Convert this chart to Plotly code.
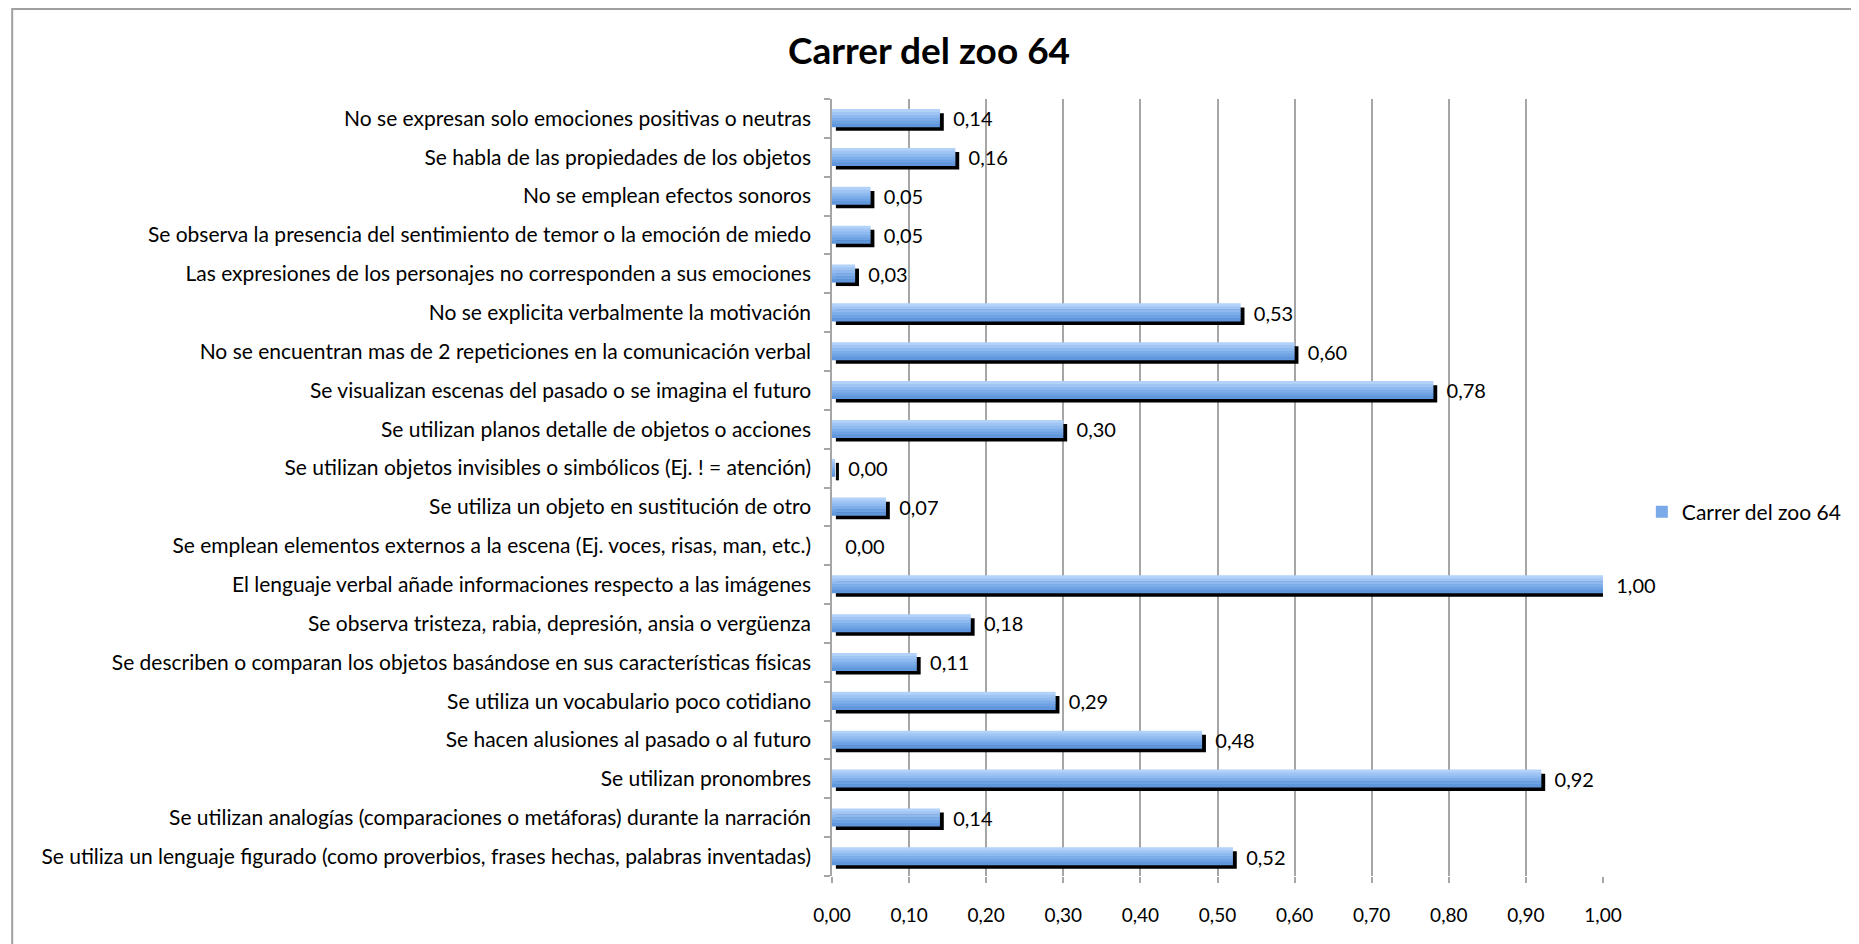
import plotly.graph_objects as go

# categories, top to bottom as in the reference
categorias = [
    "No se expresan solo emociones positivas o neutras",
    "Se habla de las propiedades de los objetos",
    "No se emplean efectos sonoros",
    "Se observa la presencia del sentimiento de temor o la emoción de miedo",
    "Las expresiones de los personajes no corresponden a sus emociones",
    "No se explicita verbalmente la motivación",
    "No se encuentran mas de 2 repeticiones en la comunicación verbal",
    "Se visualizan escenas del pasado o se imagina el futuro",
    "Se utilizan planos detalle de objetos o acciones",
    "Se utilizan objetos invisibles o simbólicos (Ej. ! = atención)",
    "Se utiliza un objeto en sustitución de otro",
    "Se emplean elementos externos a la escena (Ej. voces, risas, man, etc.)",
    "El lenguaje verbal añade informaciones respecto a las imágenes",
    "Se observa tristeza, rabia, depresión, ansia o vergüenza",
    "Se describen o comparan los objetos basándose en sus características físicas",
    "Se utiliza un vocabulario poco cotidiano",
    "Se hacen alusiones al pasado o al futuro",
    "Se utilizan pronombres",
    "Se utilizan analogías (comparaciones o metáforas) durante la narración",
    "Se utiliza un lenguaje figurado (como proverbios, frases hechas, palabras inventadas)",
]
valores = [0.14, 0.16, 0.05, 0.05, 0.03, 0.53, 0.60, 0.78, 0.30, 0.004,
           0.07, 0.00, 1.00, 0.18, 0.11, 0.29, 0.48, 0.92, 0.14, 0.52]
serie = "Carrer del zoo 64"

FONT = "Lato"
# page has an 8px body margin, so the figure is 8px smaller than the window
W, H = 1851, 936
L, R, T, B = 824, 253, 91, 68
pw, ph = W - L - R, H - T - B

fig = go.Figure()

bw = 0.45
# drop shadow
fig.add_trace(go.Bar(
    y=categorias, x=valores, base=0.005, orientation="h",
    width=bw, offset=-bw / 2 - 0.09,
    marker=dict(color="#000000", line=dict(width=0)),
    showlegend=False, hoverinfo="skip"))

# gradient bar built from thin strips (light on top, darker below)
grad = ["#b2d2f9", "#a0c5f4", "#8fbaef", "#7eaee9", "#6ea2e3", "#5f96dc"]
n = len(grad)
sw = bw / n
for i, c in enumerate(grad):
    fig.add_trace(go.Bar(
        y=categorias, x=valores, orientation="h",
        width=sw + 0.015, offset=bw / 2 - (i + 1) * sw,
        marker=dict(color=c, line=dict(width=0)),
        showlegend=False, hoverinfo="skip"))

# value labels (non-breaking spaces give the gap after the shadow)
fig.add_trace(go.Bar(
    y=categorias, x=valores, orientation="h",
    width=bw, offset=-bw / 2,
    marker=dict(color="rgba(0,0,0,0)", line=dict(width=0)),
    texttemplate="\u00a0\u00a0%{x:.2f}", textposition="outside",
    constraintext="none", cliponaxis=False,
    textfont=dict(family=FONT, size=20, color="#000000"),
    showlegend=False, hoverinfo="skip"))

# legend entry
fig.add_trace(go.Bar(
    y=[None], x=[None], orientation="h", name=serie,
    marker=dict(color="#7aaae8", line=dict(width=0))))

fig.update_layout(
    width=W, height=H,
    barmode="overlay",
    separators=",.",
    plot_bgcolor="white", paper_bgcolor="white",
    margin=dict(l=L, r=R, t=T, b=B),
    font=dict(family=FONT, size=20, color="#000000"),
    title=dict(text="<b>Carrer del zoo 64</b>", x=(929 - 8) / W, xanchor="center",
               y=1 - (51 - 8) / H, yanchor="middle",
               font=dict(family=FONT, size=37, color="#000000")),
    legend=dict(x=(1637 - L) / pw, y=(T + ph - 504) / ph,
                xanchor="left", yanchor="middle",
                font=dict(family=FONT, size=21), itemwidth=30,
                bgcolor="rgba(0,0,0,0)"),
    xaxis=dict(range=[0, 1], dtick=0.1, tickformat=".2f",
               showgrid=True, gridcolor="#a6a6a6", gridwidth=1.5,
               zeroline=False, showline=False,
               ticks="outside", ticklen=6, tickcolor="#a6a6a6", tickwidth=1.5,
               ticklabelstandoff=16,
               tickfont=dict(family=FONT, size=19)),
    yaxis=dict(categoryorder="array", categoryarray=categorias[::-1],
               showline=True, linecolor="#a6a6a6", linewidth=1.5,
               ticks="outside", ticklen=6, tickcolor="#a6a6a6", tickwidth=1.5,
               tickson="boundaries", showgrid=False,
               ticklabelstandoff=15,
               tickfont=dict(family=FONT, size=21)),
    shapes=[dict(type="rect", xref="paper", yref="paper",
                 x0=(1 - L) / pw, x1=(1849 - L) / pw,
                 y0=(T + ph - 980) / ph, y1=(T + ph - 1) / ph,
                 line=dict(color="#a0a0a0", width=2), layer="below")],
)

fig.write_html("out.html")
